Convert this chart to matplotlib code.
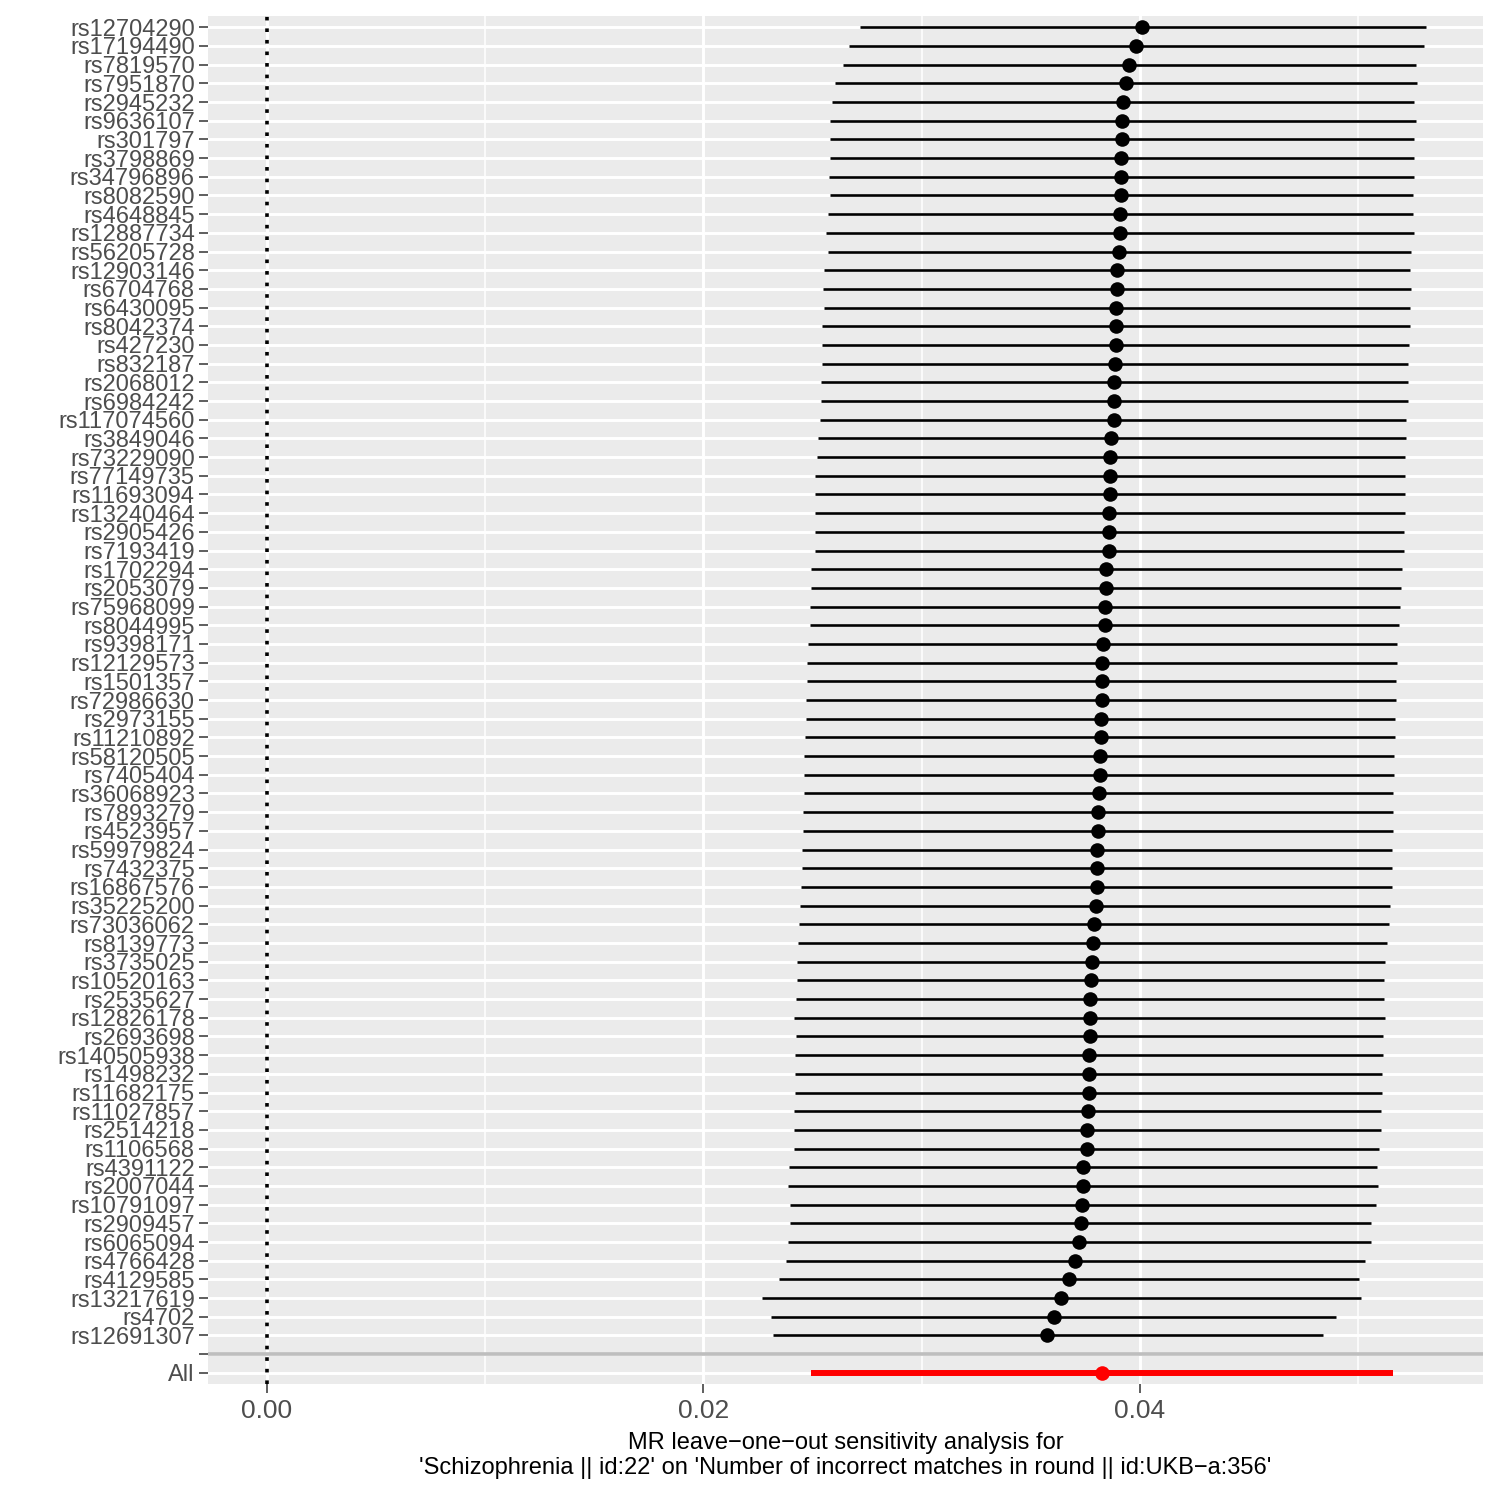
import matplotlib
matplotlib.use("Agg")
import matplotlib.pyplot as plt

plt.rcParams['font.family'] = ['Liberation Sans', 'DejaVu Sans']

# leave-one-out estimates (b) with lower / upper 95% CI, top row first
snps = ['rs12704290', 'rs17194490', 'rs7819570', 'rs7951870', 'rs2945232',
        'rs9636107', 'rs301797', 'rs3798869', 'rs34796896', 'rs8082590',
        'rs4648845', 'rs12887734', 'rs56205728', 'rs12903146', 'rs6704768',
        'rs6430095', 'rs8042374', 'rs427230', 'rs832187', 'rs2068012',
        'rs6984242', 'rs117074560', 'rs3849046', 'rs73229090', 'rs77149735',
        'rs11693094', 'rs13240464', 'rs2905426', 'rs7193419', 'rs1702294',
        'rs2053079', 'rs75968099', 'rs8044995', 'rs9398171', 'rs12129573',
        'rs1501357', 'rs72986630', 'rs2973155', 'rs11210892', 'rs58120505',
        'rs7405404', 'rs36068923', 'rs7893279', 'rs4523957', 'rs59979824',
        'rs7432375', 'rs16867576', 'rs35225200', 'rs73036062', 'rs8139773',
        'rs3735025', 'rs10520163', 'rs2535627', 'rs12826178', 'rs2693698',
        'rs140505938', 'rs1498232', 'rs11682175', 'rs11027857', 'rs2514218',
        'rs1106568', 'rs4391122', 'rs2007044', 'rs10791097', 'rs2909457',
        'rs6065094', 'rs4766428', 'rs4129585', 'rs13217619', 'rs4702',
        'rs12691307']

b = [0.04009, 0.03982, 0.03950, 0.03936, 0.03922, 0.03918, 0.03918, 0.03913,
     0.03913, 0.03913, 0.03908, 0.03908, 0.03904, 0.03895, 0.03895, 0.03890,
     0.03890, 0.03890, 0.03885, 0.03881, 0.03881, 0.03881, 0.03867, 0.03863,
     0.03863, 0.03863, 0.03858, 0.03858, 0.03858, 0.03844, 0.03844, 0.03840,
     0.03840, 0.03830, 0.03826, 0.03826, 0.03826, 0.03821, 0.03821, 0.03817,
     0.03817, 0.03812, 0.03808, 0.03808, 0.03803, 0.03803, 0.03803, 0.03798,
     0.03789, 0.03785, 0.03780, 0.03775, 0.03771, 0.03771, 0.03771, 0.03766,
     0.03766, 0.03766, 0.03762, 0.03757, 0.03757, 0.03739, 0.03739, 0.03734,
     0.03730, 0.03721, 0.03702, 0.03675, 0.03638, 0.03606, 0.03574]

lo = [0.02717, 0.02667, 0.02639, 0.02603, 0.02589, 0.02580, 0.02580, 0.02580,
      0.02575, 0.02580, 0.02570, 0.02561, 0.02570, 0.02552, 0.02548, 0.02552,
      0.02543, 0.02543, 0.02543, 0.02538, 0.02538, 0.02534, 0.02525, 0.02520,
      0.02511, 0.02511, 0.02511, 0.02511, 0.02511, 0.02493, 0.02493, 0.02488,
      0.02488, 0.02479, 0.02474, 0.02474, 0.02470, 0.02470, 0.02465, 0.02460,
      0.02460, 0.02460, 0.02456, 0.02456, 0.02451, 0.02451, 0.02447, 0.02442,
      0.02438, 0.02433, 0.02428, 0.02428, 0.02424, 0.02415, 0.02424, 0.02419,
      0.02419, 0.02419, 0.02415, 0.02415, 0.02415, 0.02392, 0.02387, 0.02396,
      0.02396, 0.02387, 0.02378, 0.02346, 0.02268, 0.02309, 0.02318]

hi = [0.05310, 0.05301, 0.05265, 0.05269, 0.05255, 0.05265, 0.05255, 0.05255,
      0.05255, 0.05251, 0.05251, 0.05255, 0.05242, 0.05237, 0.05242, 0.05237,
      0.05237, 0.05233, 0.05228, 0.05228, 0.05228, 0.05219, 0.05219, 0.05214,
      0.05214, 0.05214, 0.05214, 0.05210, 0.05210, 0.05200, 0.05196, 0.05191,
      0.05187, 0.05178, 0.05178, 0.05173, 0.05173, 0.05168, 0.05168, 0.05164,
      0.05164, 0.05159, 0.05159, 0.05159, 0.05155, 0.05155, 0.05155, 0.05146,
      0.05141, 0.05132, 0.05123, 0.05118, 0.05118, 0.05123, 0.05113, 0.05113,
      0.05109, 0.05109, 0.05104, 0.05104, 0.05095, 0.05086, 0.05090, 0.05081,
      0.05058, 0.05058, 0.05031, 0.05003, 0.05013, 0.04898, 0.04838]

all_b, all_lo, all_hi = 0.03826, 0.02493, 0.05159

xlabel = ("MR leave\u2212one\u2212out sensitivity analysis for\n"
          "'Schizophrenia || id:22' on 'Number of incorrect matches in round || id:UKB\u2212a:356'")

# y positions: All = 1, blank = 2, SNPs from 3 upward (last snp lowest)
n = len(snps)
ypos = [n + 2 - i for i in range(n)]

fig = plt.figure(figsize=(15, 15), dpi=100)
ax = fig.add_axes([0.1387, 0.0773, 0.85, 0.912])
ax.set_facecolor('#EBEBEB')
for s in ax.spines.values():
    s.set_visible(False)

ax.set_xlim(-0.0027, 0.05572)
ax.set_ylim(0.4, n + 2.6)

# grid
for x in [0.01, 0.03, 0.05]:
    ax.axvline(x, color='white', lw=1.1, zorder=0)
for x in [0.0, 0.02, 0.04]:
    ax.axvline(x, color='white', lw=2.1, zorder=0)
for y in range(1, n + 3):
    ax.axhline(y, color='white', lw=2.1, zorder=0)

ax.axvline(0, color='black', ls=(0, (1, 2.2)), lw=2.6, zorder=1)
ax.axhline(2, color='#BEBEBE', lw=2.6, zorder=1)

ax.hlines(ypos, lo, hi, color='black', lw=1.9, zorder=2)
ax.scatter(b, ypos, s=110, color='black', zorder=3, linewidths=0)
ax.hlines([1], [all_lo], [all_hi], color='#FF0000', lw=4.3, zorder=2)
ax.scatter([all_b], [1], s=110, color='#FF0000', zorder=3, linewidths=0)

ax.set_yticks([1, 2] + ypos)
ax.set_yticklabels(['All', ''] + snps)
ax.set_xticks([0.0, 0.02, 0.04])
ax.set_xticklabels(['0.00', '0.02', '0.04'])
ax.tick_params(axis='both', colors='#333333', length=6.5, width=1.1,
               labelcolor='#4D4D4D', pad=3)
ax.tick_params(axis='y', labelsize=17)
ax.tick_params(axis='x', labelsize=19, pad=4)
ax.set_xlabel(xlabel, fontsize=17, color='black', labelpad=7, linespacing=1.18)

fig.savefig('out.png', dpi=100)
